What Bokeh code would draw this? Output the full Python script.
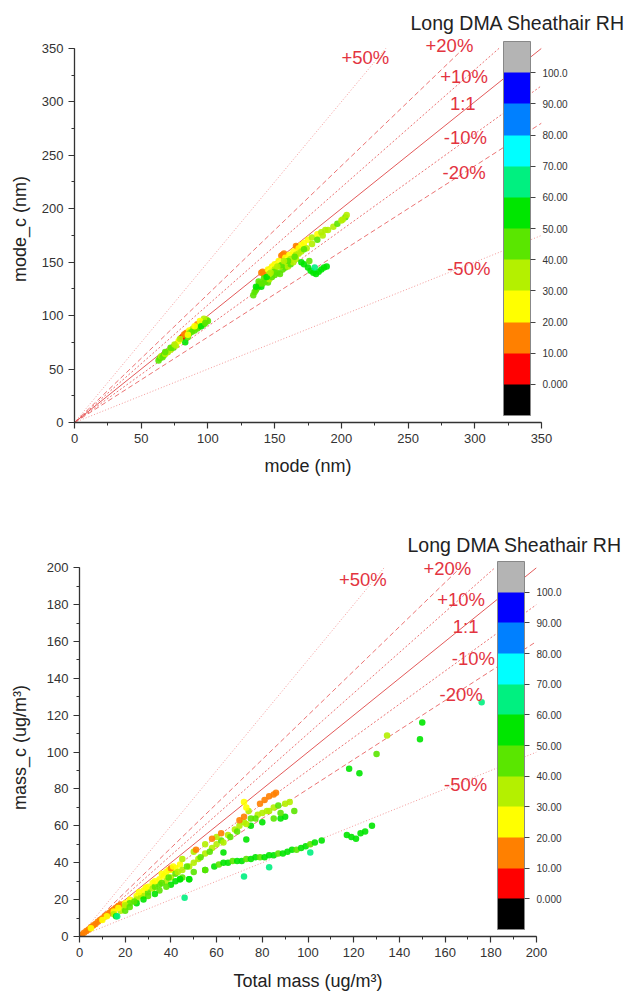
from bokeh.plotting import figure
from bokeh.models import (Range1d, SingleIntervalTicker, ColorBar, LinearColorMapper,
                          FixedTicker, Label, ColumnDataSource, CustomJSTickFormatter, Spacer)
from bokeh.layouts import column, row
from bokeh.embed import file_html
from bokeh.resources import INLINE

FONT = "Liberation Sans"

# ---------------- data ----------------
RH_PALETTE = ["#000000", "#ff0000", "#ff8000", "#ffff00", "#b4f000", "#5ae600",
              "#00e600", "#00f080", "#00ffff", "#0080ff", "#0000ff", "#b4b4b4"]
RH_TICKS = [0, 10, 20, 30, 40, 50, 60, 70, 80, 90, 100]
RH_LOW, RH_HIGH = -10, 110

RATIOS = [1.5, 1.2, 1.1, 1.0, 0.9, 0.8, 0.5]
RATIO_LABELS = ["+50%", "+20%", "+10%", "1:1", "-10%", "-20%", "-50%"]

# top panel: mode (nm) vs mode_c (nm)
top_mode = [63, 64, 65, 66, 67, 68, 70, 72, 74, 76, 78, 80, 81, 82, 83, 84, 83, 85, 86, 87,
            88, 89, 90, 91, 92, 93, 94, 95, 96, 97, 98, 99, 100, 97, 94,
            68, 72, 75, 79, 86, 88, 92, 95, 98, 85, 90,
            134, 135, 136, 137, 138, 140, 141, 143, 145, 146, 148, 150, 152, 154, 156, 158, 160, 162, 164, 166,
            140, 141, 142, 156, 157, 155, 167, 166,
            145, 148, 150, 153, 158, 161, 164, 168, 170, 172, 175, 178, 182, 185, 188,
            170, 174, 178, 182, 186, 190, 194, 197, 200, 203, 204, 201,
            170, 172, 175, 177, 179, 181, 183, 185, 187, 189, 176, 180,
            138, 142, 146, 150, 154, 158, 162, 166, 160, 155, 150, 144, 139, 136, 168, 172, 165, 147, 152, 157]
top_mode_c = [58, 60, 62, 61, 63, 64, 66, 68, 70, 72, 76, 79, 80, 82, 83, 84, 75, 80, 86, 85,
              87, 88, 86, 90, 92, 89, 91, 93, 94, 92, 95, 96, 95, 97, 95,
              66, 70, 73, 78, 83, 85, 88, 90, 93, 82, 90,
              119, 122, 124, 126, 128, 127, 130, 132, 131, 134, 136, 138, 140, 139, 143, 145, 146, 148, 150, 153,
              140, 141, 139, 157, 158, 156, 164, 165,
              143, 146, 148, 151, 154, 157, 160, 163, 166, 168, 171, 173, 176, 178, 180,
              160, 163, 167, 171, 175, 180, 183, 186, 189, 192, 194, 190,
              150, 148, 145, 142, 140, 139, 141, 143, 145, 146, 151, 145,
              132, 135, 139, 143, 146, 150, 153, 157, 151, 147, 141, 136, 130, 127, 158, 162, 155, 140, 146, 151]
top_rh = [42, 45, 38, 44, 40, 36, 38, 35, 40, 33, 28, 15, 8, 12, 18, 14, 52, 48, 25, 30,
          22, 35, 45, 28, 16, 42, 38, 35, 52, 45, 40, 36, 44, 30, 26,
          40, 42, 38, 30, 40, 44, 48, 50, 46, 20, 24,
          45, 48, 42, 44, 46, 50, 42, 40, 45, 38, 44, 40, 42, 46, 40, 42, 38, 40, 36, 38,
          15, 12, 17, 14, 12, 18, 16, 13,
          25, 28, 24, 26, 27, 25, 28, 24, 26, 28, 25, 30, 28, 32, 30,
          35, 38, 36, 40, 38, 35, 37, 40, 38, 42, 36, 34,
          50, 52, 55, 58, 56, 55, 52, 54, 50, 52, 48, 60,
          40, 42, 38, 36, 38, 35, 36, 34, 44, 46, 48, 50, 46, 52, 38, 40, 42, 30, 32, 30]

# bottom panel: total mass vs mass_c (ug/m3)
bot_total = [1, 2, 3, 4, 5, 6, 7, 8, 9, 10, 11, 12, 13, 14, 15, 16, 17, 18,
             5, 10, 15, 20, 22, 25, 28, 30, 32, 35, 37, 38, 40, 42, 44, 36, 39,
             15, 18, 20, 22, 25, 28, 30, 32, 35, 38, 40, 42, 45, 48, 50, 52, 55, 58, 60, 62,
             65, 68, 70, 72, 75, 78, 80, 82, 85, 87, 74, 60, 50, 45, 55,
             16, 20, 25, 30, 35, 40, 45, 50, 48, 44,
             75, 80, 85, 88, 90, 94, 88,
             40, 51, 58, 62, 70, 72, 79, 81, 83, 85, 86,
             72, 73, 90, 92,
             55, 59, 61, 63, 65, 67, 69, 71, 73, 75, 77, 79, 81, 83, 85, 87, 89, 91, 93, 95,
             97, 99, 101, 103, 106, 117, 119, 121, 123, 125, 128,
             16.5, 46, 72, 83, 101,
             44, 48, 55, 63, 73,
             118, 122.5, 130, 134.6, 149, 150, 176,
             20, 24, 27, 33, 36, 39, 43, 47, 53, 57, 63, 66, 69, 73, 77, 83,
             12, 17, 26, 29, 33, 41,
             22, 28, 33, 38, 42]
bot_mass_c = [1, 2, 3, 3.8, 5, 6, 6.8, 8, 8.9, 9.8, 11, 11.8, 12.7, 13.8, 14.7, 15.6, 16.5, 17.3,
              4.5, 9, 13.5, 18, 20, 22, 25, 27, 29, 31, 33, 35, 36, 37, 39, 34, 36,
              12, 14, 16, 18, 20, 22, 24, 26, 28, 30, 32, 34, 36, 38, 40, 42, 45, 48, 50, 52,
              55, 58, 60, 62, 64, 66, 67, 68, 70, 71, 68, 54, 46, 42, 50,
              11, 14, 18, 22, 25, 28, 32, 35, 31, 31,
              60, 62, 64, 64, 65, 68, 67,
              37, 47, 53, 56, 63, 65, 72, 74, 76, 77, 78,
              73, 70, 72, 73,
              36, 38, 39, 40, 40, 41, 41, 41, 42, 42, 43, 43, 43, 44, 44, 45, 45, 46, 47, 47,
              48, 49, 50, 51, 52, 55, 54, 53, 56, 57, 60,
              11, 21, 32.6, 37.5, 45.5,
              31, 31, 36, 45.5, 52.6,
              91, 88.5, 99, 109, 107, 116, 127,
              17, 19, 22, 27, 29, 32, 35, 38, 43, 46, 51, 54, 57, 61, 64, 68,
              11, 15.5, 24, 26.5, 30, 38,
              16, 20, 23, 27, 30]
bot_rh = [15, 12, 18, 14, 16, 12, 17, 15, 14, 16, 13, 17, 15, 18, 14, 16, 12, 15,
          25, 24, 26, 25, 28, 24, 26, 25, 27, 25, 28, 24, 26, 28, 25, 22, 26,
          35, 38, 36, 40, 38, 35, 42, 38, 40, 36, 38, 40, 35, 38, 36, 38, 35, 38, 36, 40,
          38, 35, 38, 36, 40, 38, 35, 38, 36, 40, 33, 32, 30, 30, 34,
          55, 48, 50, 46, 48, 50, 45, 48, 52, 50,
          50, 52, 48, 50, 52, 48, 45,
          16, 15, 14, 17, 13, 18, 15, 13, 16, 14, 17,
          25, 28, 32, 35,
          50, 52, 48, 50, 52, 48, 50, 52, 48, 50, 52, 48, 50, 52, 50, 48, 52, 50, 52, 48,
          50, 52, 48, 50, 55, 52, 55, 50, 55, 50, 52,
          62, 65, 65, 65, 62,
          50, 52, 48, 52, 50,
          50, 52, 48, 38, 52, 50, 62,
          38, 40, 38, 40, 42, 40, 38, 40, 42, 40, 38, 40, 42, 38, 40, 36,
          26, 24, 27, 25, 26, 25,
          48, 50, 52, 48, 50]

# label anchor positions (data units)
top_label_x = [218, 281, 292, 291, 293, 292, 295.5]
top_label_y = [341, 353, 324, 298.5, 267, 234, 144]
bot_label_x = [124, 161, 167, 169, 172.4, 167, 169]
bot_label_y = [193.5, 199.5, 183, 168, 151, 131, 82.4]

RATIO_STYLE = {
    1.5: ("1 2", "#f08080", 0.8),
    1.2: ("5 3", "#e85a5a", 0.85),
    1.1: ("2 2", "#e85a5a", 0.85),
    1.0: ("solid", "#e04848", 0.9),
    0.9: ("2 2", "#e85a5a", 0.85),
    0.8: ("5 3", "#e85a5a", 0.85),
    0.5: ("1 2", "#f08080", 0.8),
}


def build(xs, ys, rh, vmax, ytop, interval, xlabel, ylabel, frame_w, frame_h,
          left, top, right, xstand, ystand, cb_loc, cb_h, lab_x, lab_y,
          title_offset, title_standoff):
    p = figure(frame_width=frame_w, frame_height=frame_h,
               x_range=Range1d(0, vmax), y_range=Range1d(0, ytop),
               output_backend="svg", toolbar_location=None,
               min_border_left=left, min_border_right=right,
               min_border_top=top, min_border_bottom=0,
               title="Long DMA Sheathair RH")
    p.title.align = "left"
    p.title.offset = title_offset
    p.title.standoff = title_standoff
    p.title.text_font = FONT
    p.title.text_font_size = "19.5px"
    p.title.text_font_style = "normal"
    p.title.text_color = "#222222"

    p.xgrid.visible = False
    p.ygrid.visible = False
    p.outline_line_color = None
    p.background_fill_color = "white"
    p.border_fill_color = "white"

    p.xaxis.ticker = SingleIntervalTicker(interval=interval, num_minor_ticks=2)
    p.yaxis.ticker = SingleIntervalTicker(interval=interval, num_minor_ticks=2)
    p.yaxis.bounds = (0, vmax)
    p.xaxis.axis_label = xlabel
    p.yaxis.axis_label = ylabel
    for ax in (p.xaxis, p.yaxis):
        ax.axis_line_color = "#333333"
        ax.axis_line_width = 1.3
        ax.major_tick_line_color = "#333333"
        ax.minor_tick_line_color = "#333333"
        ax.major_tick_line_width = 1.2
        ax.major_tick_out = 6
        ax.major_tick_in = 0
        ax.minor_tick_out = 3
        ax.minor_tick_in = 0
        ax.major_label_text_font = FONT
        ax.major_label_text_font_size = "13px"
        ax.major_label_text_color = "#333333"
        ax.axis_label_text_font = FONT
        ax.axis_label_text_font_size = "18px"
        ax.axis_label_text_font_style = "normal"
        ax.axis_label_text_color = "#222222"
    p.xaxis.axis_label_standoff = xstand
    p.yaxis.axis_label_standoff = ystand

    # reference ratio lines, ending at the axis maximum
    for r in RATIOS:
        dash, col, alpha = RATIO_STYLE[r]
        x_end = vmax / r if r > 1 else vmax
        p.line([0, x_end], [0, r * x_end], line_color=col, line_dash=dash,
               line_width=1, line_alpha=alpha)

    mapper = LinearColorMapper(palette=RH_PALETTE, low=RH_LOW, high=RH_HIGH)
    src = ColumnDataSource(dict(x=xs, y=ys, rh=rh))
    p.scatter("x", "y", source=src, size=6.5, line_color=None, fill_alpha=0.9,
              fill_color={"field": "rh", "transform": mapper})

    for t, lx, ly in zip(RATIO_LABELS, lab_x, lab_y):
        p.add_layout(Label(x=lx, y=ly, text=t, text_color="#e3343f", text_font=FONT,
                           text_font_size="18.5px", text_align="center",
                           text_baseline="middle"))

    cb = ColorBar(color_mapper=mapper, location=cb_loc, width=27, height=cb_h,
                  padding=0, ticker=FixedTicker(ticks=RH_TICKS),
                  formatter=CustomJSTickFormatter(code="return tick.toPrecision(4);"),
                  major_tick_out=5, major_tick_in=0, major_tick_line_color="#444444",
                  bar_line_color="#888888", label_standoff=7,
                  major_label_text_font=FONT, major_label_text_font_size="10px",
                  major_label_text_color="#333333",
                  background_fill_alpha=0, border_line_color=None)
    p.add_layout(cb)
    return p


p1 = build(top_mode, top_mode_c, top_rh, 350, 362, 50, "mode (nm)", "mode_c (nm)",
           467, 387, 74, 35, 83, 10, 9, (429, 7), 374,
           top_label_x, top_label_y, 336, 3)
p2 = build(bot_total, bot_mass_c, bot_rh, 200, 205, 20, "Total mass (ug/m³)", "mass_c (ug/m³)",
           457, 378, 74, 80, 88, 11, 14, (418, 7), 368,
           bot_label_x, bot_label_y, 328, 5)

layout = column(p1, row(Spacer(width=5, height=10), p2, spacing=0), spacing=0)
open("out.html", "w").write(file_html(layout, INLINE))
